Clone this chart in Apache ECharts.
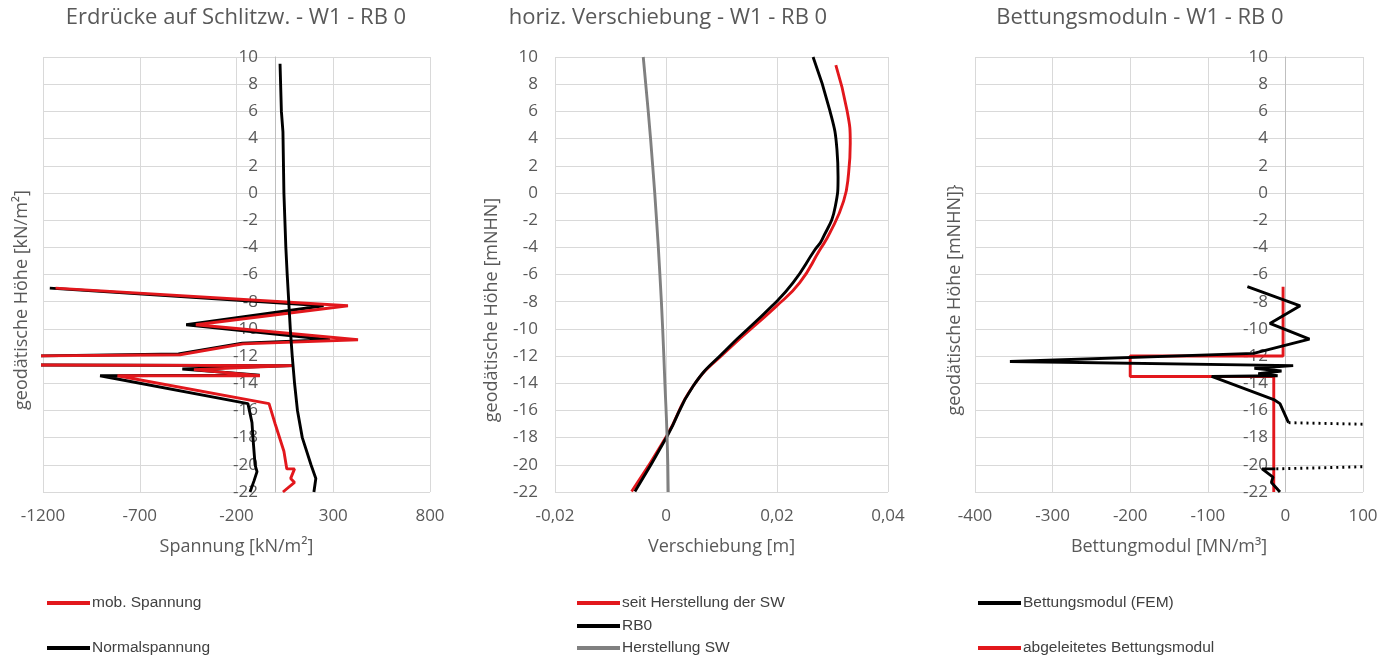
<!DOCTYPE html>
<html><head><meta charset="utf-8">
<script src="https://cdn.jsdelivr.net/npm/echarts@6/dist/echarts.min.js"></script>
<style>html,body{margin:0;padding:0;background:#fff}#c{width:1396px;height:664px}</style>
</head><body><div id="c"></div>
<script>
// ---------- Chart 1: Erdrücke ----------
const mobSpannung = [[-1135,-7.0],[376,-8.3],[-410,-9.7],[428,-10.8],[-166,-11.1],[-492,-11.9],[-1300,-12.0],[-1300,-12.65],[92,-12.7],[-420,-13.0],[-79,-13.45],[-815,-13.45],[-32,-15.5],[0,-17],[45,-19],[60,-20.3],[100,-20.3],[80,-21],[100,-21.3],[40,-22]];
const normalLinks = [[-1165,-7.0],[250,-8.3],[-460,-9.7],[283,-10.8],[-170,-11.05],[-500,-11.85],[-1300,-12.0],[-1300,-12.65],[92,-12.7],[-480,-12.95],[-80,-13.4],[-905,-13.45],[-141,-15.5],[-120,-16.9],[-115,-18],[-104,-20],[-94,-20.5],[-110,-21.2],[-130,-22]];
const normalRechts = [[25,9.5],[32,6],[40,4.5],[45,0],[55,-4],[62,-6],[70,-8],[78,-10],[88,-12],[100,-14],[115,-16],[140,-18],[185,-20],[195,-20.4],[210,-21],[205,-21.5],[200,-22]];
// ---------- Chart 2: Verschiebung ----------
const seitHerstellung = [[0.0306,9.4],[0.0326,6.1],[0.0332,3.65],[0.0329,1.45],[0.0320,-0.6],[0.0295,-2.96],[0.0277,-4.2],[0.0241,-6.6],[0.0198,-8.36],[0.0111,-11.55],[0.0049,-14.2],[0.0001,-17.9],[-0.0062,-21.96]];
const rb0 = [[0.0265,10],[0.0295,6.1],[0.0308,3.2],[0.0310,1.2],[0.0305,-1.0],[0.0281,-3.45],[0.0268,-4.2],[0.0229,-6.6],[0.0190,-8.36],[0.0108,-11.55],[0.0049,-14.2],[0.0002,-17.9],[-0.0056,-21.96]];
const herstellungSW = [[-0.0041,10],[-0.0032,6],[-0.0024,2],[-0.0017,-2],[-0.0011,-6],[-0.0006,-10],[-0.0002,-14],[0.0002,-18],[0.0004,-22]];
// ---------- Chart 3: Bettungsmodul ----------
const bettungFEM = [[-49,-6.9],[19,-8.3],[-20,-9.6],[31,-10.76],[-41,-11.8],[-355,-12.4],[10,-12.7],[-40,-12.9],[-5,-13.1],[-35,-13.3],[-10,-13.45],[-95,-13.5],[-15,-15.2],[-7,-15.5],[4,-16.9]];
const bettungFEMDotted = [[4,-16.9],[130,-17.05],null,[130,-20.1],[-13,-20.3]];
const bettungFEMUnten = [[-13,-20.3],[-30,-20.3],[-16,-20.9],[-18,-21.3],[-7,-22]];
const bettungAbgeleitet = [[-3,-6.9],[-3,-12],[-200,-12],[-200,-13.5],[-15,-13.5],[-15,-22]];

const titles = ['Erdrücke auf Schlitzw. - W1 - RB 0','horiz. Verschiebung - W1 - RB 0','Bettungsmoduln - W1 - RB 0'];
const xNames = ['Spannung [kN/m²]','Verschiebung [m]','Bettungmodul [MN/m³]'];
const yNames = ['geodätische Höhe [kN/m²]','geodätische Höhe [mNHN]','geodätische Höhe [mNHN]}'];
const xRanges = [[-1200,800,500],[-0.02,0.04,0.02],[-400,100,100]];
const yRange = [-22,10,2];

const RED = '#e2171c', BLACK = '#000000', GRAY = '#808080';
const TXT = '#595959';
const FONT = '"Liberation Sans", Arial, sans-serif';
const TFONT = '"Open Sans", "Liberation Sans", sans-serif';
const GRIDC = '#d9d9d9';

const grids = [
  {left:43, top:57, width:387, height:435},
  {left:555, top:57, width:333, height:435},
  {left:975, top:57, width:388, height:435}
];
// pixel offset of the vertical axis (at x = 0) from the left edge of each plot
const yAxisOffsets = [-232, 0, -310];
const xAxis = xRanges.map((r,i)=>({
  type:'value', gridIndex:i, min:r[0], max:r[1], interval:r[2],
  axisLine:{show:false, onZero:false}, axisTick:{show:false},
  splitLine:{show:true, lineStyle:{color:GRIDC, width:1}},
  axisLabel:{color:TXT, fontSize:17, fontFamily:TFONT, margin:16,
    formatter: i===1 ? (v=>Math.abs(v)<1e-9?'0':v.toFixed(2).replace('.',',')) : (v=>String(Math.round(v)))},
  name:xNames[i], nameLocation:'middle', nameGap:46,
  nameTextStyle:{color:TXT, fontSize:18, fontFamily:TFONT}
}));
const yAxis = [0,1,2].map(i=>({
  type:'value', gridIndex:i, min:yRange[0], max:yRange[1], interval:yRange[2],
  position:'left', offset:yAxisOffsets[i],
  axisLine:{show: i!==1, onZero:false, lineStyle:{color:'#bfbfbf', width:1}},
  axisTick:{show:false},
  splitLine:{show:true, lineStyle:{color:GRIDC, width:1}},
  axisLabel:{color:TXT, fontSize:17, fontFamily:TFONT, margin:17}
}));
function line(name, data, color, gi, extra){
  return Object.assign({type:'line', name, data, xAxisIndex:gi, yAxisIndex:gi, showSymbol:false, symbol:'none',
    lineStyle:{color, width:2.9}, itemStyle:{color}, connectNulls:false, animation:false, clip:true}, extra||{});
}
const series = [
  line('Normalspannung', normalLinks, BLACK, 0),
  line('mob. Spannung', mobSpannung, RED, 0),
  line('Normalspannung', normalRechts, BLACK, 0),
  line('seit Herstellung der SW', seitHerstellung, RED, 1, {smooth:true}),
  line('RB0', rb0, BLACK, 1, {smooth:true}),
  line('Herstellung SW', herstellungSW, GRAY, 1, {smooth:true}),
  line('abgeleitetes Bettungsmodul', bettungAbgeleitet, RED, 2),
  line('Bettungsmodul (FEM)', bettungFEM, BLACK, 2),
  line('Bettungsmodul (FEM)', bettungFEMDotted, BLACK, 2, {lineStyle:{color:BLACK,width:2.9,type:[2,4]}}),
  line('Bettungsmodul (FEM)', bettungFEMUnten, BLACK, 2)
];
const legendItems = [
  ['mob. Spannung',47,604,RED],['Normalspannung',47,649,BLACK],
  ['seit Herstellung der SW',577,604,RED],['RB0',577,627,BLACK],['Herstellung SW',577,649,GRAY],
  ['Bettungsmodul (FEM)',978,604,BLACK],['abgeleitetes Bettungsmodul',978,649,RED]
];
const legend = legendItems.map(([n,x,y,c])=>({
  data:[{name:n, icon:'rect', itemStyle:{color:c}}], left:x, top:y-9, padding:0,
  itemWidth:43, itemHeight:4, selectedMode:false,
  textStyle:{color:'#404040', fontSize:15.5, fontFamily:FONT, padding:[0,0,0,-3]}
}));
const titleX = [236, 668, 1140];
const yNameX = [22, 492, 955];
const yNameY = [300, 310, 300];
const graphic = [];
titles.forEach((t,i)=>graphic.push({type:'text', x:titleX[i], y:18, silent:true,
  style:{text:t, fill:TXT, font:'22px '+TFONT, align:'center', verticalAlign:'middle', textAlign:'center', textVerticalAlign:'middle'}}));
yNames.forEach((t,i)=>graphic.push({type:'text', x:yNameX[i], y:yNameY[i], rotation:Math.PI/2, silent:true,
  style:{text:t, fill:TXT, font:'18px '+TFONT, align:'center', verticalAlign:'middle', textAlign:'center', textVerticalAlign:'middle'}}));

const chart = echarts.init(document.getElementById('c'), null, {renderer:'canvas'});
chart.setOption({animation:false, backgroundColor:'#fff', grid:grids, xAxis, yAxis, series, legend, graphic});
</script></body></html>
